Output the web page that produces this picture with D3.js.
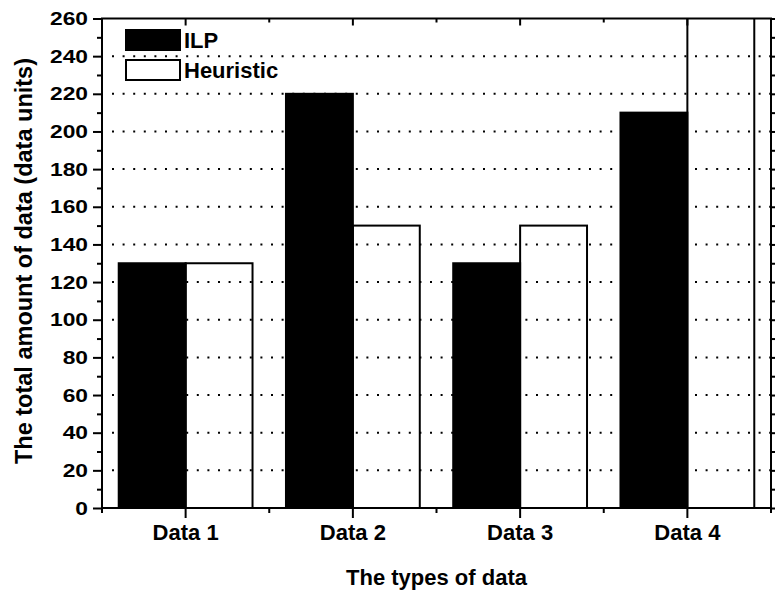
<!DOCTYPE html>
<html lang="en">
<head>
  <meta charset="utf-8">
  <title>ILP vs Heuristic</title>
  <script src="https://cdn.jsdelivr.net/npm/d3@7"></script>
  <style>
    body { margin: 0; background: #fff; }
    text { font-family: "Liberation Sans", Arial, sans-serif; font-weight: bold; fill: #000; }
  </style>
</head>
<body>
  <div class="chart"></div>

  <script>
    // data
    var categories = ["Data 1", "Data 2", "Data 3", "Data 4"];
    var seriesNames = ["ILP", "Heuristic"];
    var ilp = [130, 220, 130, 210];
    var heuristic = [130, 150, 150, 280]; // last one runs off the top of the axis
    var yMajor = [0, 20, 40, 60, 80, 100, 120, 140, 160, 180, 200, 220, 240, 260];
    var yMinor = [10, 30, 50, 70, 90, 110, 130, 150, 170, 190, 210, 230, 250];
    var gridVals = [20, 40, 60, 80, 100, 120, 140, 160, 180, 200, 220, 240];

    var w = 775, h = 594;
    // NB: "top" is taken by window.top, so plot edges get their own names
    var pL = 102, pR = 771, pT = 18.5, pB = 508;

    var svg = d3.select('.chart')
      .append('svg')
      .attr('width', w)
      .attr('height', h);

    var x = d3.scaleBand()
      .domain(categories)
      .range([pL, pR])
      .paddingInner(0.2)
      .paddingOuter(0.1);

    var xs = d3.scaleBand()
      .domain(seriesNames)
      .range([0, x.bandwidth()]);

    var y = d3.scaleLinear()
      .domain([0, 260])
      .range([pB, pT]);

    // clip bars to the plot frame
    svg.append('clipPath').attr('id', 'plot')
      .append('rect')
      .attr('x', pL).attr('y', pT)
      .attr('width', pR - pL).attr('height', pB - pT);

    var rows = categories.map(function(c, i) {
      return { cat: c, ILP: ilp[i], Heuristic: heuristic[i] };
    });

    var bars = svg.append('g').attr('clip-path', 'url(#plot)');
    bars.selectAll('g')
      .data(rows)
      .enter()
      .append('g')
      .attr('transform', function(d) { return 'translate(' + x(d.cat) + ',0)'; })
      .selectAll('rect')
      .data(function(d) { return seriesNames.map(function(s) { return { s: s, v: d[s] }; }); })
      .enter()
      .append('rect')
      .attr('x', function(d) { return xs(d.s); })
      .attr('y', function(d) { return y(d.v); })
      .attr('width', xs.bandwidth())
      .attr('height', function(d) { return pB - y(d.v); })
      .attr('fill', function(d) { return d.s == 'ILP' ? '#000' : 'none'; })
      .attr('stroke', '#000')
      .attr('stroke-width', 2);

    // dotted grid, drawn over the bars (hidden on black anyway)
    svg.append('g').selectAll('line')
      .data(gridVals)
      .enter()
      .append('line')
      .attr('x1', pL + 10).attr('x2', pR)
      .attr('y1', function(d) { return y(d); })
      .attr('y2', function(d) { return y(d); })
      .attr('stroke', '#000')
      .attr('stroke-width', 2)
      .attr('stroke-dasharray', '2,8.6');

    // tick positions on the category axis: centres (major) and band edges (minor)
    var step = x.step();
    var edges = d3.range(categories.length + 1).map(function(i) { return pL + i * step; });

    function styleAxis(g) {
      g.selectAll('path.domain').remove();
      g.selectAll('line').attr('stroke', '#000').attr('stroke-width', 2);
    }

    // left axis
    var yl = svg.append('g').attr('transform', 'translate(' + pL + ',0)')
      .call(d3.axisLeft(y).tickValues(yMajor).tickSize(9).tickPadding(14).tickFormat(d3.format('d')))
      .call(styleAxis);
    yl.selectAll('text')
      .attr('x', 0)
      .attr('transform', 'translate(-14,0) scale(1.2,1)')
      .style('font-size', '19px')
      .style('font-family', '"Liberation Sans", Arial, sans-serif');
    svg.append('g').attr('transform', 'translate(' + pL + ',0)')
      .call(d3.axisLeft(y).tickValues(yMinor).tickSize(5).tickFormat(''))
      .call(styleAxis);

    // right axis, ticks outward
    svg.append('g').attr('transform', 'translate(' + pR + ',0)')
      .call(d3.axisRight(y).tickValues(yMajor).tickSize(9).tickFormat(''))
      .call(styleAxis);
    svg.append('g').attr('transform', 'translate(' + pR + ',0)')
      .call(d3.axisRight(y).tickValues(yMinor).tickSize(5).tickFormat(''))
      .call(styleAxis);

    // bottom axis
    var xb = svg.append('g').attr('transform', 'translate(0,' + pB + ')')
      .call(d3.axisBottom(x).tickSize(10).tickPadding(6))
      .call(styleAxis);
    xb.selectAll('text')
      .style('font-size', '22px')
      .style('font-family', '"Liberation Sans", Arial, sans-serif');
    svg.append('g').selectAll('line')
      .data(edges)
      .enter()
      .append('line')
      .attr('x1', function(d) { return d; }).attr('x2', function(d) { return d; })
      .attr('y1', pB).attr('y2', pB + 5)
      .attr('stroke', '#000').attr('stroke-width', 2);

    // top axis, ticks inward
    svg.append('g').attr('transform', 'translate(0,' + pT + ')')
      .call(d3.axisBottom(x).tickSize(7).tickFormat(''))
      .call(styleAxis);
    svg.append('g').selectAll('line')
      .data(edges)
      .enter()
      .append('line')
      .attr('x1', function(d) { return d; }).attr('x2', function(d) { return d; })
      .attr('y1', pT).attr('y2', pT + 4)
      .attr('stroke', '#000').attr('stroke-width', 2);

    // frame
    svg.append('rect')
      .attr('x', pL).attr('y', pT)
      .attr('width', pR - pL).attr('height', pB - pT)
      .attr('fill', 'none')
      .attr('stroke', '#000')
      .attr('stroke-width', 2);

    // legend
    var legend = svg.append('g');
    legend.selectAll('rect')
      .data(seriesNames)
      .enter()
      .append('rect')
      .attr('x', 126)
      .attr('y', function(d, i) { return 30 + i * 30; })
      .attr('width', 54)
      .attr('height', 20)
      .attr('fill', function(d) { return d == 'ILP' ? '#000' : '#fff'; })
      .attr('stroke', '#000')
      .attr('stroke-width', 2);
    legend.selectAll('text')
      .data(seriesNames)
      .enter()
      .append('text')
      .attr('x', 184)
      .attr('y', function(d, i) { return 48 + i * 30; })
      .style('font-size', '22px')
      .text(function(d) { return d; });

    // axis titles
    svg.append('text')
      .attr('x', (pL + pR) / 2)
      .attr('y', 585)
      .attr('text-anchor', 'middle')
      .style('font-size', '22px')
      .text('The types of data');

    svg.append('text')
      .attr('transform', 'translate(32,' + 261 + ') rotate(-90)')
      .attr('text-anchor', 'middle')
      .style('font-size', '23.5px')
      .text('The total amount of data (data units)');
  </script>
</body>
</html>
